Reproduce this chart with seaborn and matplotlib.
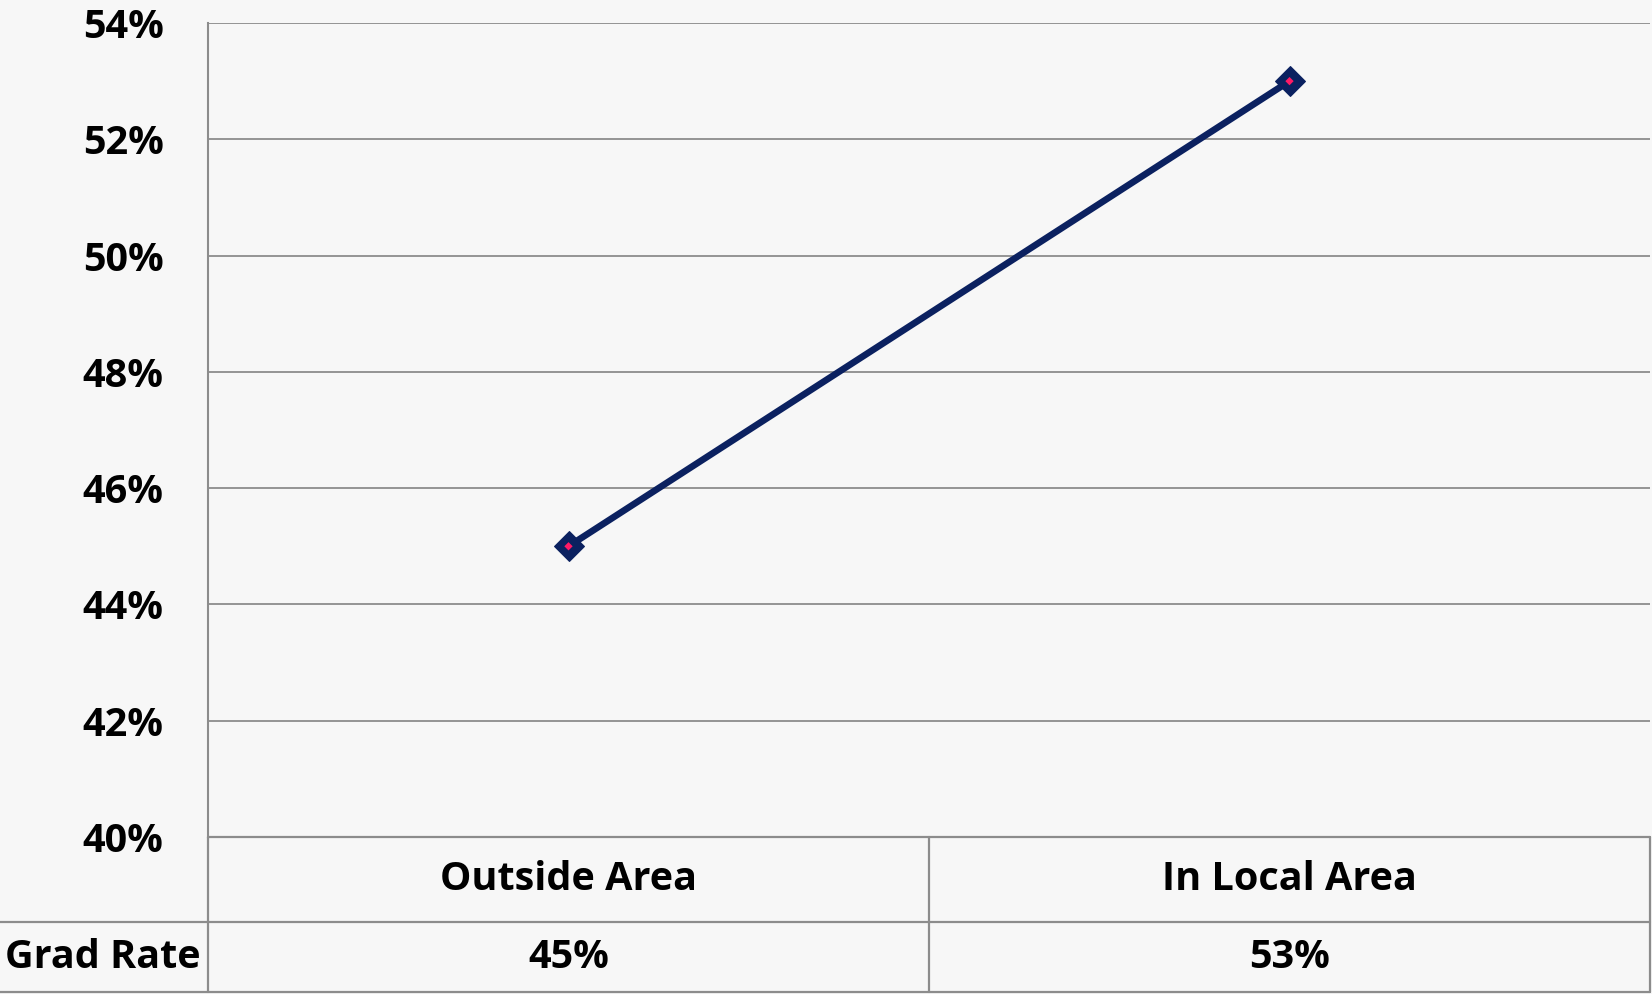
import matplotlib
matplotlib.use("Agg")
import matplotlib.pyplot as plt
import matplotlib.transforms as mtransforms
import seaborn as sns
import pandas as pd

# chart data
categories = ["Outside Area", "In Local Area"]
grad_rate = [45, 53]
row_label = "Grad Rate"
y_ticks = [40, 42, 44, 46, 48, 50, 52, 54]

df = pd.DataFrame({"pos": range(len(categories)), "rate": grad_rate})

sns.set_style("white")
plt.rcParams["font.family"] = ["Open Sans", "DejaVu Sans"]
plt.rcParams["font.weight"] = "bold"
plt.rcParams["text.color"] = "black"
plt.rcParams["ytick.color"] = "black"

bg = "#f7f7f7"
grid = "#8c8c8c"
navy = "#0b2160"
fs = 28.5

W, H = 1652, 994
fig = plt.figure(figsize=(W / 100, H / 100), dpi=100, facecolor=bg)
left, right, top, bottom = 208, 1650, 23, 837
ax = fig.add_axes([left / W, 1 - bottom / H, (right - left) / W, (bottom - top) / H])
ax.set_facecolor(bg)

sns.lineplot(data=df, x="pos", y="rate", ax=ax, color=navy, linewidth=4.8,
             marker="D", markersize=15, markeredgecolor=navy, markerfacecolor=navy)
sns.scatterplot(data=df, x="pos", y="rate", ax=ax, color="#ff1a66", marker="D",
                s=18, edgecolor="none", zorder=5)

ax.set_xlim(-0.5, len(categories) - 0.5)
ax.set_ylim(y_ticks[0], y_ticks[-1])
ax.set_yticks(y_ticks)
ax.set_yticklabels([f"{t}%" for t in y_ticks], fontsize=fs, fontweight="bold")
ax.set_xticks([])
ax.set_xlabel("")
ax.set_ylabel("")
ax.tick_params(axis="y", length=0, pad=32)
for t in y_ticks:
    ax.axhline(t, color=grid, linewidth=1.3, zorder=0)
for s in ["top", "right", "bottom"]:
    ax.spines[s].set_visible(False)
ax.spines["left"].set_color(grid)
ax.spines["left"].set_linewidth(1.5)

# data table under the plot
tr = mtransforms.blended_transform_factory(ax.transData, fig.transFigure)
row1 = 922
row2 = 992


def fy(p):
    return 1 - p / H


def fline(x0, y0, x1, y1):
    fig.add_artist(plt.Line2D([x0 / W, x1 / W], [fy(y0), fy(y1)], color=grid,
                              linewidth=1.6, transform=fig.transFigure))


fline(left, bottom, left, row2)
fline(right, bottom, right, row2)
mid = (left + right) / 2
fline(mid, bottom, mid, row2)
fline(0, row1, right, row1)
fline(0, row2, right, row2)
fline(left, bottom, right, bottom)

for i, (c, v) in enumerate(zip(categories, grad_rate)):
    fig.text(i, fy((bottom + row1) / 2), c, transform=tr, ha="center", va="center",
             fontsize=fs, fontweight="bold")
    fig.text(i, fy((row1 + row2) / 2), f"{v}%", transform=tr, ha="center",
             va="center", fontsize=fs, fontweight="bold")
fig.text(5 / W, fy((row1 + row2) / 2), row_label, ha="left", va="center",
         fontsize=fs, fontweight="bold")

fig.savefig("out.png", dpi=100, facecolor=bg)
